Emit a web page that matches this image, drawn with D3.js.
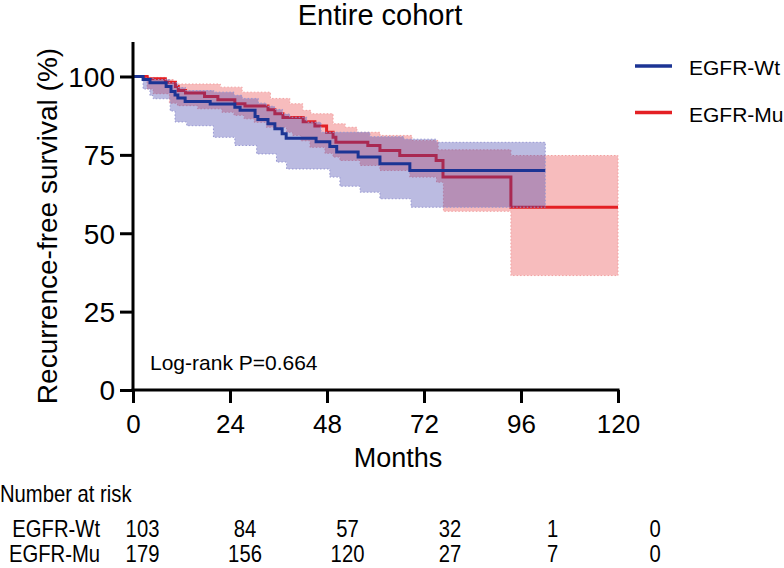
<!DOCTYPE html>
<html><head><meta charset="utf-8">
<script src="https://cdn.jsdelivr.net/npm/d3@7"></script>
<style>
body{margin:0;background:#fff}
svg{display:block}
text{font-family:"Liberation Sans",Arial,Helvetica,sans-serif;fill:#000}
</style>
</head><body>
<svg id="chart" width="784" height="568"></svg>
<script>
// ---------- data ----------
const seriesNames = ["EGFR-Wt", "EGFR-Mu"];
const xTicks = [0, 24, 48, 72, 96, 120];
const yTicks = [0, 25, 50, 75, 100];

// EGFR-Wt Kaplan-Meier estimate (months, %)
const wtTime = [0, 2.5, 4.2, 8.2, 9.4, 10.4, 11.1, 12.9, 19.1, 25.2, 26.5, 30.2, 30.9, 33.4, 35.1, 36.9, 37.9, 45.3, 48.7, 50.4, 55.7, 61.1, 68.5, 102];
const wtSurv = [100, 99.0, 98.0, 96.8, 95.2, 94.1, 93.1, 92.0, 91.2, 90.2, 89.2, 87.2, 86.3, 84.9, 83.3, 81.7, 80.3, 79.2, 77.7, 75.9, 74.3, 72.2, 70.0, 70.0];
const wtUpperTime = [0, 2.5, 5, 9, 11, 13, 20, 25, 27, 31, 33, 35, 37, 38.8, 43, 46.5, 58.6, 67, 75, 102];
const wtUpper = [100, 99.5, 99.0, 98.0, 96.5, 95.5, 95.0, 94.0, 93.0, 91.5, 90.5, 89.5, 88.0, 87.0, 85.4, 82.2, 80.8, 80.0, 79.0, 79.0];
const wtLowerTime = [0, 2.5, 4.2, 5, 9.2, 10.4, 13.3, 19.9, 25.2, 30.6, 35.5, 38, 48.7, 51.2, 56.2, 61.1, 68.8, 102];
const wtLower = [100, 96.0, 93.9, 92.9, 89.0, 85.5, 84.3, 80.6, 78.0, 75.3, 72.7, 70.5, 67.9, 65.0, 63.1, 61.0, 58.3, 58.3];

// EGFR-Mu Kaplan-Meier estimate (months, %)
const muTime = [0, 3.5, 8, 10.5, 11.2, 13, 17.7, 21, 25.2, 27.7, 33.4, 35.1, 37.1, 42.1, 45, 47.9, 49.5, 50.2, 58.1, 61.1, 66, 75, 76.7, 93.5, 120];
const muSurv = [100, 99.3, 98.2, 96.8, 95.5, 94.7, 93.6, 92.6, 91.3, 90.6, 89.4, 88.1, 86.9, 85.6, 84.2, 82.2, 80.6, 79.0, 78.0, 76.4, 74.8, 73.2, 67.9, 58.3, 58.3];
const muUpperTime = [0, 4, 8, 10, 21.6, 27, 34, 38.8, 42, 44, 49.5, 52.5, 55.4, 61.1, 69, 75.5, 93.5, 120];
const muUpper = [100, 99.7, 99.0, 97.6, 96.6, 95.0, 93.0, 91.3, 89.2, 88.1, 84.9, 83.8, 82.2, 81.2, 79.6, 76.6, 74.8, 74.8];
const muLowerTime = [0, 3.5, 5, 9, 11, 16, 22, 25, 27.5, 30, 33, 38, 39.5, 41.5, 43.8, 47.5, 49.5, 51.2, 56.2, 61.1, 68.5, 75.1, 76.8, 93.5, 120];
const muLower = [100, 96.0, 94.5, 91.5, 90.7, 89.7, 88.6, 87.6, 86.5, 85.4, 83.8, 82.2, 81.2, 79.5, 77.4, 75.5, 74.3, 73.2, 71.6, 70.0, 67.9, 66.3, 57.0, 36.5, 36.5];

// Number at risk
const riskTimes = [0, 24, 48, 72, 96, 120];
const wtRisk = [103, 84, 57, 32, 1, 0];
const muRisk = [179, 156, 120, 27, 7, 0];

const chartTitle = "Entire cohort";
const xTitle = "Months";
const yTitle = "Recurrence-free survival (%)";
const pText = "Log-rank P=0.664";

// ---------- style ----------
const blue = "rgb(28,52,148)";
const red = "rgb(228,32,36)";
const blueBand = "rgb(60,60,170)";

const svg = d3.select("#chart");
const x = d3.scaleLinear().domain([0, 120]).range([133, 618]);
const y = d3.scaleLinear().domain([0, 111]).range([390, 42]);

function stepVal(ts, vs, t) {
  let v = vs[0];
  for (let i = 0; i < ts.length; i++) { if (ts[i] <= t) v = vs[i]; else break; }
  return v;
}
function bandPoints(ut, uv, lt, lv) {
  const ts = Array.from(new Set(ut.concat(lt))).sort((a, b) => a - b);
  return ts.map(t => ({t, hi: stepVal(ut, uv, t), lo: stepVal(lt, lv, t)}));
}
const area = d3.area().curve(d3.curveStepAfter)
  .x(d => x(d.t)).y0(d => y(d.lo)).y1(d => y(d.hi));
const line = d3.line().curve(d3.curveStepAfter).x(d => x(d[0])).y(d => y(d[1]));

const plot = svg.append("g");
// red band, red line, blue band, blue line
plot.append("path").datum(bandPoints(muUpperTime, muUpper, muLowerTime, muLower))
  .attr("d", area).attr("fill", red).attr("fill-opacity", 0.3)
  .attr("stroke", "rgb(242,160,160)").attr("stroke-width", 1).attr("stroke-dasharray", "1.5,2");
plot.append("path").datum(muTime.map((t, i) => [t, muSurv[i]]))
  .attr("d", line).attr("fill", "none").attr("stroke", red).attr("stroke-width", 3);
plot.append("path").datum(bandPoints(wtUpperTime, wtUpper, wtLowerTime, wtLower))
  .attr("d", area).attr("fill", blueBand).attr("fill-opacity", 0.35)
  .attr("stroke", "rgb(150,150,210)").attr("stroke-width", 1).attr("stroke-dasharray", "1.5,2");
plot.append("path").datum(wtTime.map((t, i) => [t, wtSurv[i]]))
  .attr("d", line).attr("fill", "none").attr("stroke", blue).attr("stroke-width", 3);

// axes
const yAxis = svg.append("g").attr("transform", "translate(133,0)")
  .call(d3.axisLeft(y).tickValues(yTicks).tickSize(13).tickPadding(5).tickSizeOuter(0));
const xAxis = svg.append("g").attr("transform", "translate(0,390)")
  .call(d3.axisBottom(x).tickValues(xTicks).tickSize(13).tickPadding(8).tickSizeOuter(0));
[yAxis, xAxis].forEach(g => {
  g.select(".domain").attr("stroke", "#000").attr("stroke-width", 3);
  g.selectAll(".tick line").attr("stroke", "#000").attr("stroke-width", 3);
  g.selectAll(".tick text").attr("fill", "#000").style("font-family", "'Liberation Sans',Arial,sans-serif");
});
yAxis.select(".domain").attr("d", `M0,${y(111)}V${y(0) + 1.5}`);
xAxis.select(".domain").attr("d", `M${x(0) - 1.5},0H${x(120) + 1.5}`);
yAxis.selectAll(".tick text").style("font-size", "28px").attr("dy", "0.35em");
xAxis.selectAll(".tick text").style("font-size", "26px").attr("dy", "0.85em");

// titles
svg.append("text").attr("x", 380).attr("y", 25).attr("text-anchor", "middle")
  .style("font-size", "29px").text(chartTitle);
svg.append("text").attr("x", 398).attr("y", 467).attr("text-anchor", "middle")
  .style("font-size", "27px").text(xTitle);
svg.append("text").attr("transform", "translate(57,226) rotate(-90)").attr("text-anchor", "middle")
  .style("font-size", "28px").text(yTitle);
svg.append("text").attr("x", 150).attr("y", 370).style("font-size", "21px").text(pText);

// legend
const legColors = [blue, red];
const leg = svg.append("g");
seriesNames.forEach((n, i) => {
  const ly = 66 + i * 46.5;
  leg.append("line").attr("x1", 635).attr("x2", 672).attr("y1", ly).attr("y2", ly)
    .attr("stroke", legColors[i]).attr("stroke-width", 3.5);
  leg.append("text").attr("x", 689).attr("y", ly + 9).style("font-size", "21px").text(n);
});

// number at risk table
const rx = d3.scalePoint().domain(riskTimes).range([142.5, 655]);
const narrow = 0.88;
function ntext(xp, yp, s, anchor) {
  svg.append("text").attr("transform", `translate(${xp},${yp}) scale(${narrow},1)`)
    .attr("text-anchor", anchor).style("font-size", "23px").text(s);
}
ntext(0, 502, "Number at risk", "start");
const rows = [wtRisk, muRisk];
rows.forEach((r, i) => {
  const yy = 537 + i * 24.5;
  ntext(100, yy, seriesNames[i], "end");
  r.forEach((v, j) => ntext(rx(riskTimes[j]), yy, String(v), "middle"));
});
</script>
</body></html>
